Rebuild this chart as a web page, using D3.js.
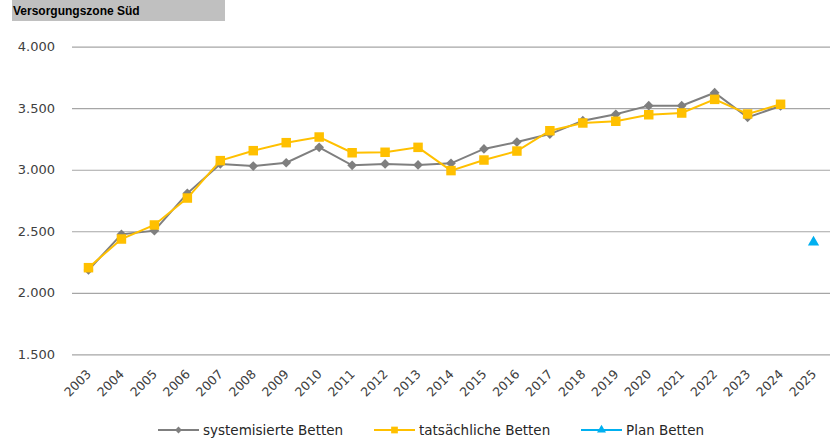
<!DOCTYPE html>
<html>
<head>
<meta charset="utf-8">
<script src="https://cdnjs.cloudflare.com/ajax/libs/d3/7.8.5/d3.min.js"></script>
<style>
  body { margin: 0; background: #fff; }
  svg { display: block; }
</style>
</head>
<body>
<svg id="MyGraph" width="839" height="440"></svg>
<script>
var years = ["2003","2004","2005","2006","2007","2008","2009","2010","2011","2012","2013",
             "2014","2015","2016","2017","2018","2019","2020","2021","2022","2023","2024","2025"];

// systemisierte Betten
var systemisiert = [2185,2475,2505,2808,3047,3030,3057,3182,3036,3047,3039,
                    3052,3169,3225,3290,3399,3451,3521,3521,3626,3426,3518,null];
// tatsächliche Betten
var tatsaechlich = [2204,2437,2551,2770,3074,3155,3220,3266,3138,3142,3182,
                    2993,3079,3152,3317,3380,3394,3447,3461,3572,3453,3532,null];
// Plan Betten
var plan = [null,null,null,null,null,null,null,null,null,null,null,
            null,null,null,null,null,null,null,null,null,null,null,2410];

var yTicks = [1500,2000,2500,3000,3500,4000];

var svg = d3.select("#MyGraph");

// title box
svg.append("rect").attr("x", 12).attr("y", 0).attr("width", 213).attr("height", 21)
    .attr("fill", "#c0c0c0");
svg.append("text").attr("x", 13).attr("y", 14.5)
    .attr("font-family", "Liberation Sans, Arial, sans-serif")
    .attr("font-weight", "bold").attr("font-size", 12)
    .attr("fill", "#000")
    .text("Versorgungszone Süd");

var x = d3.scaleBand().domain(years).range([72, 830]).paddingInner(0);
var y = d3.scaleLinear().domain([1500, 4000]).range([354.3, 46.7]);

function cx(d, i) { return x(years[i]) + x.bandwidth() / 2; }

// gridlines + y labels
var yAxis = svg.append("g")
    .attr("transform", "translate(72,0)")
    .call(d3.axisLeft(y).tickValues(yTicks).tickSize(-758).tickPadding(17)
      .tickFormat(function(d) { return d3.format(",.0f")(d).replace(/,/g, "."); }));
yAxis.select(".domain").remove();
yAxis.selectAll(".tick line").attr("stroke", "#a6a6a6").attr("stroke-width", 1.2);
yAxis.selectAll(".tick text")
    .attr("font-family", "DejaVu Sans, sans-serif").attr("font-size", 13)
    .attr("fill", "#404040");

// x labels
svg.append("g").selectAll("text")
    .data(years).enter().append("text")
    .attr("transform", function(d) {
      return "translate(" + (x(d) + x.bandwidth() / 2 + 3.5) + ",375) rotate(-45)"; })
    .attr("text-anchor", "end")
    .attr("font-family", "DejaVu Sans, sans-serif").attr("font-size", 12.5)
    .attr("fill", "#404040")
    .text(function(d) { return d; });

var line = d3.line()
    .defined(function(d) { return d != null; })
    .x(cx)
    .y(function(d) { return y(d); });

var diamond = d3.symbol().type(d3.symbolDiamond2).size(60);
var square = d3.symbol().type(d3.symbolSquare).size(90);
var triangle = d3.symbol().type(d3.symbolTriangle).size(55);

var series = [
  {name: "systemisierte Betten", values: systemisiert, color: "#7f7f7f", sym: diamond},
  {name: "tatsächliche Betten", values: tatsaechlich, color: "#ffc000", sym: square},
  {name: "Plan Betten", values: plan, color: "#00b0f0", sym: triangle}
];

series.forEach(function(s) {
  var g = svg.append("g");
  g.append("path")
      .attr("d", line(s.values))
      .attr("fill", "none")
      .attr("stroke", s.color)
      .attr("stroke-width", 2);
  g.selectAll("path.m")
      .data(s.values.map(function(v, i) { return {v: v, i: i}; })
        .filter(function(d) { return d.v != null; }))
      .enter().append("path")
      .attr("class", "m")
      .attr("transform", function(d) {
        return "translate(" + cx(d.v, d.i) + "," + y(d.v) + ")"; })
      .attr("d", s.sym)
      .attr("fill", s.color);
});

// legend
var legendX = [158, 374, 581];
var legend = svg.append("g").selectAll("g")
    .data(series).enter().append("g")
    .attr("transform", function(d, i) { return "translate(" + legendX[i] + ",430)"; });

legend.append("line")
    .attr("x1", 0).attr("x2", 41).attr("y1", 0).attr("y2", 0)
    .attr("stroke", function(d) { return d.color; })
    .attr("stroke-width", 2);
legend.append("path")
    .attr("transform", "translate(20.5,0)")
    .attr("d", function(d, i) {
      return d3.symbol().type([d3.symbolDiamond2, d3.symbolSquare, d3.symbolTriangle][i])
        .size([30, 45, 35][i])();
    })
    .attr("fill", function(d) { return d.color; });
legend.append("text")
    .attr("x", 45).attr("y", 0).attr("dy", "0.35em")
    .attr("font-family", "DejaVu Sans, sans-serif").attr("font-size", 13.5)
    .attr("fill", "#262626")
    .text(function(d) { return d.name; });
</script>
</body>
</html>
